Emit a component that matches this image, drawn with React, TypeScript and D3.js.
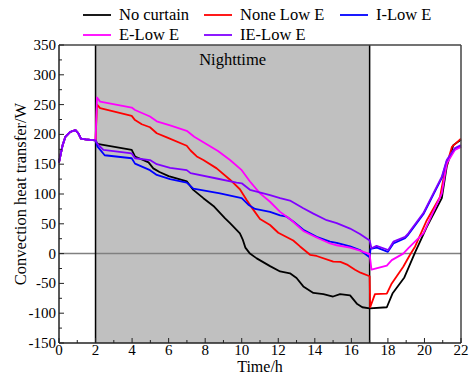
import React from "react";
import * as d3 from "d3";

type P = [number, number];

const preNight: P[] = [
  [0, 153], [0.1, 168], [0.2, 182], [0.35, 196], [0.6, 204], [0.9, 207],
  [1.05, 202], [1.2, 193], [1.45, 191.5], [2.0, 190],
];

const noCurtain: P[] = [
  [2.1, 184], [3.98, 174], [4.16, 163], [4.9, 153], [5.16, 143], [5.5, 137],
  [6.0, 130], [7.0, 121], [7.35, 107], [7.9, 93], [8.45, 80], [9.09, 59],
  [9.36, 51], [9.9, 34], [10.05, 24], [10.2, 10], [10.45, 0], [10.82, -8], [11.55, -21],
  [12.1, -30], [12.64, -33], [13.0, -41], [13.37, -55], [13.92, -66],
  [14.47, -68], [15.0, -72], [15.38, -68], [15.93, -70], [16.3, -84],
  [16.6, -90], [17.0, -92], [17.94, -90], [18.25, -67], [18.9, -40],
  [19.5, 3], [20.13, 45], [20.95, 93], [21.22, 146], [21.58, 182], [22.0, 191],
];

const noneLowE: P[] = [
  [2.08, 250], [2.25, 244], [3.98, 231], [4.16, 224], [4.53, 217], [4.98, 212],
  [5.35, 202], [5.9, 195], [6.99, 181], [7.2, 173], [7.54, 163], [7.9, 157],
  [8.63, 143], [9.36, 124], [9.9, 108], [10.27, 90], [10.6, 75], [11.0, 58],
  [11.55, 48], [12.0, 35], [12.82, 22], [13.19, 12], [13.74, -2], [14.1, -4],
  [15.01, -13.5], [15.4, -14], [15.8, -19], [16.2, -27], [16.5, -32],
  [17.0, -38], [17.03, -90], [17.29, -68], [17.94, -67], [18.21, -50],
  [18.84, -22], [19.21, -2], [19.49, 12], [20.13, 56], [20.85, 95],
  [21.13, 140], [21.5, 179], [22.0, 193],
];

const iLowE: P[] = [
  [2.1, 180], [2.5, 165], [3.98, 160], [4.16, 151], [4.98, 140], [5.35, 132],
  [6.08, 125], [6.99, 119], [7.35, 109], [8.81, 101], [10.0, 93], [10.36, 82],
  [10.73, 75], [11.55, 70], [12.1, 64], [12.46, 62], [12.82, 54], [13.37, 40],
  [14.1, 28], [14.83, 20], [15.2, 18], [15.93, 12], [16.47, 6], [17.0, -6],
  [17.05, 8], [17.4, 10], [18.0, 3], [18.3, 17], [18.94, 26], [19.12, 32],
  [19.94, 66], [20.95, 127], [21.22, 155], [21.67, 175], [22.0, 180],
];

const eLowE: P[] = [
  [2.08, 262], [2.25, 255], [3.98, 245], [4.16, 241], [4.98, 230], [5.35, 222],
  [6.08, 215], [6.99, 206], [7.4, 196], [8.7, 172], [9.36, 157], [10.0, 140],
  [10.45, 121], [11.0, 101], [11.55, 87], [12.1, 70], [12.64, 58], [13.37, 38],
  [14.1, 27], [14.83, 17], [15.2, 14], [15.93, 10], [16.47, 5], [17.0, -1],
  [17.1, -27], [17.94, -20], [18.21, -11], [18.84, 0], [19.12, 9],
  [19.94, 34], [20.95, 101], [21.22, 151], [21.67, 174], [22.0, 179],
];

const ieLowE: P[] = [
  [2.1, 184], [2.43, 174], [3.98, 168], [4.16, 160], [4.98, 157], [5.35, 150],
  [6.08, 144], [6.99, 140], [7.2, 135], [8.63, 126], [9.72, 119], [10.0, 118],
  [10.45, 107], [10.82, 104], [11.55, 98], [12.1, 93], [12.64, 89],
  [13.37, 76], [13.92, 67], [14.65, 56], [15.2, 51], [15.93, 42], [16.47, 33],
  [17.0, 22], [17.1, 9], [17.38, 13], [18.02, 6], [18.3, 20], [18.94, 28],
  [19.12, 34], [19.94, 68], [20.95, 129], [21.22, 157], [21.67, 177], [22.0, 182],
];

const seriesNames = ["No curtain", "None Low E", "I-Low E", "E-Low E", "IE-Low E"];
const seriesData = [noCurtain, noneLowE, iLowE, eLowE, ieLowE];
const seriesColors = ["#000000", "#ff0000", "#0000ff", "#ff00ff", "#8000ff"];

const xTicks = [0, 2, 4, 6, 8, 10, 12, 14, 16, 18, 20, 22];
const yTicks = [-150, -100, -50, 0, 50, 100, 150, 200, 250, 300, 350];
const nightStart = 2;
const nightEnd = 17;

const W = 469, H = 376;
const L = 59, R = 461, T = 45, B = 343;

export default function App() {
  const x = d3.scaleLinear().domain([0, 22]).range([L, R]);
  const y = d3.scaleLinear().domain([-150, 350]).range([B, T]);
  const line = d3.line<P>().x((d) => x(d[0])).y((d) => y(d[1]));
  const font = "'Liberation Serif', 'Times New Roman', serif";
  const xMinor = d3.range(0, 23, 1);
  const yMinor = d3.range(-150, 351, 25);
  const legendPos = [
    [83, 15], [204, 15], [340, 15], [83, 35], [204, 35],
  ];
  return (
    <svg width={W} height={H} style={{ position: "absolute", left: 0, top: 0 }}
      fontFamily={font}>
      <rect x={0} y={0} width={W} height={H} fill="#fff" />
      <rect x={x(nightStart)} y={T} width={x(nightEnd) - x(nightStart)} height={B - T} fill="#c0c0c0" />
      <line x1={L} x2={R} y1={y(0)} y2={y(0)} stroke="#808080" strokeWidth={1.5} />
      <line x1={x(nightStart)} x2={x(nightStart)} y1={T} y2={B} stroke="#000" strokeWidth={1.5} />
      <line x1={x(nightEnd)} x2={x(nightEnd)} y1={T} y2={B} stroke="#000" strokeWidth={1.5} />
      <text x={(x(nightStart) + x(nightEnd)) / 2} y={65} fontSize={16.5} textAnchor="middle">Nighttime</text>
      {seriesData.map((s, i) => (
        <path key={i} d={line([...preNight, ...s]) || ""} fill="none"
          stroke={seriesColors[i]} strokeWidth={1.8} strokeLinejoin="round" />
      ))}
      {/* frame */}
      <line x1={L} x2={R} y1={T} y2={T} stroke="#444" strokeWidth={1.5} />
      <line x1={R} x2={R} y1={T} y2={B} stroke="#444" strokeWidth={1.5} />
      <line x1={L} x2={L} y1={T} y2={B} stroke="#222" strokeWidth={1.5} />
      <line x1={L} x2={R} y1={B} y2={B} stroke="#222" strokeWidth={1.5} />
      {xMinor.map((t) => (
        <line key={"xm" + t} x1={x(t)} x2={x(t)} y1={B} y2={B - (t % 2 === 0 ? 5 : 3)} stroke="#222" strokeWidth={1} />
      ))}
      {yMinor.map((v) => (
        <line key={"ym" + v} x1={L} x2={L + (v % 50 === 0 ? 5 : 3)} y1={y(v)} y2={y(v)} stroke="#222" strokeWidth={1} />
      ))}
      {xTicks.map((t) => (
        <text key={"xt" + t} x={x(t)} y={355} fontSize={15} textAnchor="middle">{t}</text>
      ))}
      {yTicks.map((v) => (
        <text key={"yt" + v} x={L - 3} y={y(v) + 5} fontSize={15} textAnchor="end">{v}</text>
      ))}
      <text x={(L + R) / 2} y={372.3} fontSize={16} textAnchor="middle">Time/h</text>
      <text transform={`translate(26,${(T + B) / 2}) rotate(-90)`} fontSize={16.5} textAnchor="middle">Convection heat transfer/W</text>
      {seriesNames.map((n, i) => (
        <g key={"lg" + i}>
          <line x1={legendPos[i][0]} x2={legendPos[i][0] + 28} y1={legendPos[i][1]} y2={legendPos[i][1]}
            stroke={seriesColors[i]} strokeWidth={1.8} />
          <text x={legendPos[i][0] + 36} y={legendPos[i][1] + 5} fontSize={16.5}>{n}</text>
        </g>
      ))}
    </svg>
  );
}
